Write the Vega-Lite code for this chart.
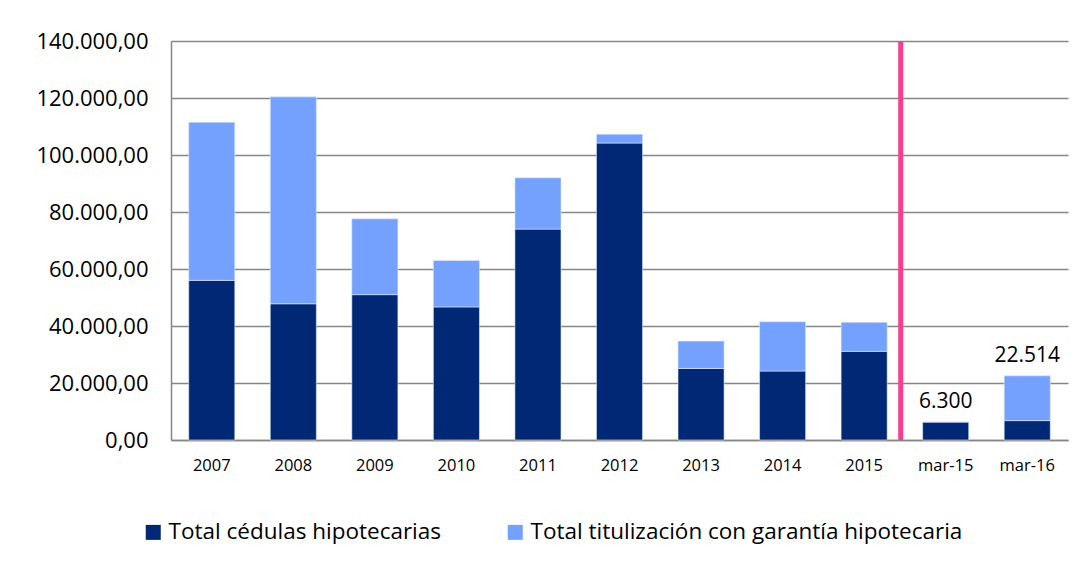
{
  "$schema": "https://vega.github.io/schema/vega-lite/v6.json",
  "width": 897,
  "height": 399,
  "autosize": "none",
  "padding": {"left": 171, "top": 41, "right": 15, "bottom": 128},
  "background": "white",
  "config": {
    "font": "Open Sans",
    "view": {"stroke": null},
    "locale": {"number": {"decimal": ",", "thousands": ".", "grouping": [3], "currency": ["", " €"]}},
    "axis": {"labelColor": "#000000", "domainColor": "#868686", "gridColor": "#868686", "domainWidth": 1.5, "gridWidth": 1.5, "ticks": false, "title": null}
  },
  "datasets": {
    "emisiones": [
      {"periodo": "2007", "serie": "Total cédulas hipotecarias", "orden": 1, "valor": 56000},
      {"periodo": "2007", "serie": "Total titulización con garantía hipotecaria", "orden": 2, "valor": 55500},
      {"periodo": "2008", "serie": "Total cédulas hipotecarias", "orden": 1, "valor": 47800},
      {"periodo": "2008", "serie": "Total titulización con garantía hipotecaria", "orden": 2, "valor": 72600},
      {"periodo": "2009", "serie": "Total cédulas hipotecarias", "orden": 1, "valor": 51000},
      {"periodo": "2009", "serie": "Total titulización con garantía hipotecaria", "orden": 2, "valor": 26600},
      {"periodo": "2010", "serie": "Total cédulas hipotecarias", "orden": 1, "valor": 46700},
      {"periodo": "2010", "serie": "Total titulización con garantía hipotecaria", "orden": 2, "valor": 16300},
      {"periodo": "2011", "serie": "Total cédulas hipotecarias", "orden": 1, "valor": 74000},
      {"periodo": "2011", "serie": "Total titulización con garantía hipotecaria", "orden": 2, "valor": 18000},
      {"periodo": "2012", "serie": "Total cédulas hipotecarias", "orden": 1, "valor": 104200},
      {"periodo": "2012", "serie": "Total titulización con garantía hipotecaria", "orden": 2, "valor": 3100},
      {"periodo": "2013", "serie": "Total cédulas hipotecarias", "orden": 1, "valor": 25100},
      {"periodo": "2013", "serie": "Total titulización con garantía hipotecaria", "orden": 2, "valor": 9600},
      {"periodo": "2014", "serie": "Total cédulas hipotecarias", "orden": 1, "valor": 24200},
      {"periodo": "2014", "serie": "Total titulización con garantía hipotecaria", "orden": 2, "valor": 17300},
      {"periodo": "2015", "serie": "Total cédulas hipotecarias", "orden": 1, "valor": 31100},
      {"periodo": "2015", "serie": "Total titulización con garantía hipotecaria", "orden": 2, "valor": 10200},
      {"periodo": "mar-15", "serie": "Total cédulas hipotecarias", "orden": 1, "valor": 6300},
      {"periodo": "mar-15", "serie": "Total titulización con garantía hipotecaria", "orden": 2, "valor": 0},
      {"periodo": "mar-16", "serie": "Total cédulas hipotecarias", "orden": 1, "valor": 6800},
      {"periodo": "mar-16", "serie": "Total titulización con garantía hipotecaria", "orden": 2, "valor": 15714}
    ],
    "separador": [{"periodo": "2015"}]
  },
  "encoding": {
    "x": {
      "field": "periodo", "type": "nominal", "sort": null,
      "scale": {"domain": ["2007","2008","2009","2010","2011","2012","2013","2014","2015","mar-15","mar-16"], "paddingInner": 0.435, "paddingOuter": 0.2175},
      "axis": {"labelAngle": 0, "labelFontSize": 16.5, "labelPadding": 17, "domain": true, "grid": false}
    }
  },
  "layer": [
    {
      "data": {"name": "emisiones"},
      "mark": {"type": "bar", "stroke": "#dfe8ff", "strokeWidth": 0.6},
      "encoding": {
        "y": {
          "field": "valor", "type": "quantitative", "aggregate": "sum", "stack": "zero",
          "scale": {"domain": [0, 140000], "nice": false},
          "axis": {"values": [0,20000,40000,60000,80000,100000,120000,140000], "format": ",.2f", "labelFontSize": 22, "labelPadding": 23, "grid": true}
        },
        "color": {
          "field": "serie", "type": "nominal",
          "scale": {"domain": ["Total cédulas hipotecarias", "Total titulización con garantía hipotecaria"], "range": ["#012874", "#75A1FE"]},
          "legend": {
            "orient": "none", "legendX": -29, "legendY": 480, "direction": "horizontal", "title": null,
            "symbolType": "square", "symbolSize": 225, "symbolStrokeWidth": 0, "labelFontSize": 22.5, "labelColor": "#000000",
            "labelOffset": 4, "columnPadding": 62, "labelLimit": 700
          }
        },
        "order": {"field": "orden", "type": "quantitative"}
      }
    },
    {
      "data": {"name": "emisiones"},
      "transform": [
        {"filter": {"field": "periodo", "oneOf": ["mar-15", "mar-16"]}},
        {"aggregate": [{"op": "sum", "field": "valor", "as": "total"}], "groupby": ["periodo"]}
      ],
      "mark": {"type": "text", "baseline": "bottom", "dy": -10, "fontSize": 21, "color": "#000000"},
      "encoding": {
        "y": {"field": "total", "type": "quantitative"},
        "text": {"field": "total", "type": "quantitative", "format": ",.0f"}
      }
    },
    {
      "data": {"name": "separador"},
      "mark": {"type": "rule", "color": "#FF3B8D", "strokeWidth": 5},
      "encoding": {
        "x": {"field": "periodo", "type": "nominal", "bandPosition": 1.294}
      }
    }
  ]
}
